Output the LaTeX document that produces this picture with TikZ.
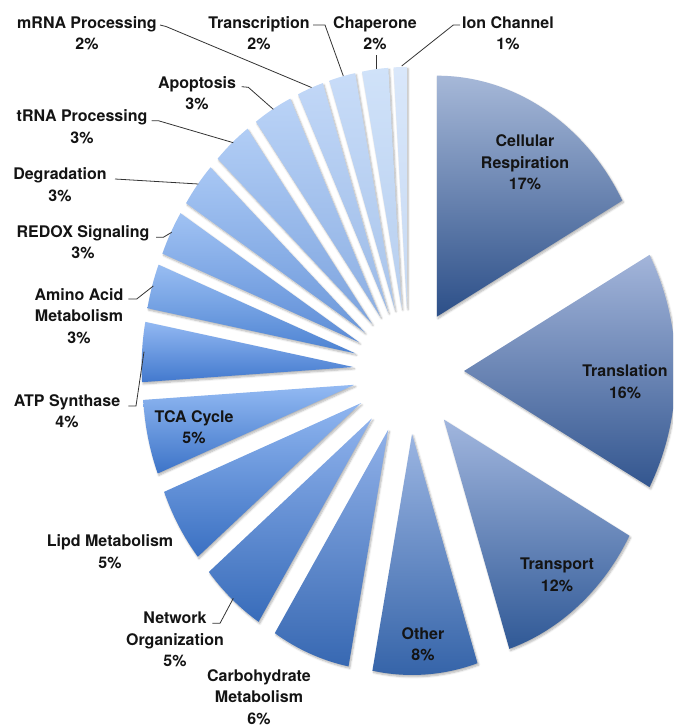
\documentclass[tikz,border=0pt]{standalone}
\usepackage{fontspec}
\setmainfont{TeX Gyre Heros}
\usetikzlibrary{shadows.blur}
\definecolor{t1}{HTML}{A6B8D8}\definecolor{b1}{HTML}{2C4F88}
\definecolor{t2}{HTML}{A3B5DA}\definecolor{b2}{HTML}{33568F}
\definecolor{t3}{HTML}{A1B6DE}\definecolor{b3}{HTML}{305996}
\definecolor{t4}{HTML}{9BB5E2}\definecolor{b4}{HTML}{3463A8}
\definecolor{t5}{HTML}{90B1E9}\definecolor{b5}{HTML}{3768B2}
\definecolor{t6}{HTML}{8FB2EC}\definecolor{b6}{HTML}{386CBA}
\definecolor{t7}{HTML}{90B6F0}\definecolor{b7}{HTML}{3A70C2}
\definecolor{t8}{HTML}{93BAF3}\definecolor{b8}{HTML}{3D74C8}
\definecolor{t9}{HTML}{92B8F2}\definecolor{b9}{HTML}{4279CE}
\definecolor{t10}{HTML}{98BDF2}\definecolor{b10}{HTML}{4C82D2}
\definecolor{t11}{HTML}{A0C2F3}\definecolor{b11}{HTML}{5C8CD6}
\definecolor{t12}{HTML}{A8C7F4}\definecolor{b12}{HTML}{6C98DA}
\definecolor{t13}{HTML}{B1CDF5}\definecolor{b13}{HTML}{7CA3DE}
\definecolor{t14}{HTML}{B9D2F6}\definecolor{b14}{HTML}{8CAFE3}
\definecolor{t15}{HTML}{C1D7F7}\definecolor{b15}{HTML}{9BBAE7}
\definecolor{t16}{HTML}{C8DCF8}\definecolor{b16}{HTML}{A8C4EB}
\definecolor{t17}{HTML}{D0E2F9}\definecolor{b17}{HTML}{B6CEEF}
\definecolor{t18}{HTML}{D9E7FA}\definecolor{b18}{HTML}{C6D9F3}
\newcommand\myslice[3]{% start angle, end angle, colour index
  \pgfmathsetmacro\slmid{(#1+#2)/2}
  \path[slicestyle, top color=t#3, bottom color=b#3]
    ({408.6+55.4*cos(\slmid)},{-371+63.1*sin(\slmid)})
    -- ++({211.7*cos(#1)},{241*sin(#1)})
    arc[start angle=#1, end angle=#2, x radius=211.7pt, y radius=241pt] -- cycle;
}
\begin{document}
\begin{tikzpicture}[x=1pt,y=1pt,
  lbl/.style={font=\fontsize{16}{21.5}\selectfont\bfseries, align=center, inner sep=0pt, text=black!92},
  leader/.style={draw=black!80, line width=0.8pt},
  slicestyle/.style={blur shadow={shadow xshift=1.2pt, shadow yshift=-1.8pt, shadow blur steps=6, shadow opacity=30, shadow blur radius=2pt}}
]
\useasboundingbox (0,0) rectangle (673,-728);
\clip (0,0) rectangle (673,-728);
% slices
\myslice{90}{28.8}{1}
\myslice{28.8}{-28.8}{2}
\myslice{-28.8}{-72}{3}
\myslice{-72}{-100.8}{4}
\myslice{-100.8}{-122.4}{5}
\myslice{-122.4}{-140.4}{6}
\myslice{-140.4}{-158.4}{7}
\myslice{-158.4}{-176.4}{8}
\myslice{-176.4}{-190.8}{9}
\myslice{-190.8}{-201.6}{10}
\myslice{-201.6}{-212.4}{11}
\myslice{-212.4}{-223.2}{12}
\myslice{-223.2}{-234}{13}
\myslice{-234}{-244.8}{14}
\myslice{-244.8}{-252}{15}
\myslice{-252}{-259.2}{16}
\myslice{-259.2}{-266.4}{17}
\myslice{-266.4}{-270}{18}
% labels
\node[lbl] (cr) at (525,-162.5) {Cellular\\Respiration\\17\%};
\node[lbl] (tl) at (625,-381.5) {Translation\\16\%};
\node[lbl] (tp) at (557,-575) {Transport\\12\%};
\node[lbl] (ot) at (423,-644) {Other\\8\%};
\node[lbl] (cb) at (259,-697) {Carbohydrate\\Metabolism\\6\%};
\node[lbl] (nw) at (175,-639.5) {Network\\Organization\\5\%};
\node[lbl] (lp) at (110,-551.5) {Lipd Metabolism\\5\%};
\node[lbl] (tca) at (194,-427) {TCA Cycle\\5\%};
\node[lbl] (atp) at (67,-411) {ATP Synthase\\4\%};
\node[lbl] (aa) at (79,-316) {Amino Acid\\Metabolism\\3\%};
\node[lbl] (rx) at (83,-242) {REDOX Signaling\\3\%};
\node[lbl] (dg) at (60,-184.5) {Degradation\\3\%};
\node[lbl] (tr) at (82,-126.5) {tRNA Processing\\3\%};
\node[lbl] (ap) at (197,-93) {Apoptosis\\3\%};
\node[lbl] (mr) at (87,-33) {mRNA Processing\\2\%};
\node[lbl] (tc) at (259,-33) {Transcription\\2\%};
\node[lbl] (ch) at (375,-33) {Chaperone\\2\%};
\node[lbl] (ic) at (508,-33) {Ion Channel\\1\%};
% leader end points
\coordinate (mrA) at (160,-25);   \coordinate (mrB) at (166,-26.5);  \coordinate (mrC) at (311.5,-87.5);
\coordinate (tcA) at (313,-25);   \coordinate (tcB) at (325,-25);    \coordinate (tcC) at (343.3,-76);
\coordinate (chA) at (376,-55);   \coordinate (chC) at (376,-68.5);
\coordinate (icA) at (460,-25);   \coordinate (icB) at (453.3,-25);  \coordinate (icC) at (401.7,-66);
\coordinate (apA) at (241.7,-86.7); \coordinate (apB) at (248.3,-87.3); \coordinate (apC) at (273.3,-109.3);
\coordinate (trA) at (151.7,-120.7); \coordinate (trB) at (158.3,-120.7); \coordinate (trC) at (233.3,-142.7);
\coordinate (dgA) at (115,-179);  \coordinate (dgC) at (198.3,-184);
\coordinate (rxA) at (156,-237.3); \coordinate (rxB) at (163.3,-237.3); \coordinate (rxC) at (171.7,-232.3);
\coordinate (aaA) at (128.3,-299); \coordinate (aaB) at (136.7,-299); \coordinate (aaC) at (153.3,-286);
\coordinate (atA) at (128.3,-406); \coordinate (atB) at (136,-406); \coordinate (atC) at (144,-351.7);
\coordinate (nwA) at (212.3,-623.3); \coordinate (nwB) at (220,-623.3); \coordinate (nwC) at (233.3,-598.3);
\draw[leader] (mrA) -- (mrB) -- (mrC);
\draw[leader] (tcA) -- (tcB) -- (tcC);
\draw[leader] (chA) -- (chC);
\draw[leader] (icA) -- (icB) -- (icC);
\draw[leader] (apA) -- (apB) -- (apC);
\draw[leader] (trA) -- (trB) -- (trC);
\draw[leader] (dgA) -- (dgC);
\draw[leader] (rxA) -- (rxB) -- (rxC);
\draw[leader] (aaA) -- (aaB) -- (aaC);
\draw[leader] (atA) -- (atB) -- (atC);
\draw[leader] (nwA) -- (nwB) -- (nwC);
\end{tikzpicture}
\end{document}
